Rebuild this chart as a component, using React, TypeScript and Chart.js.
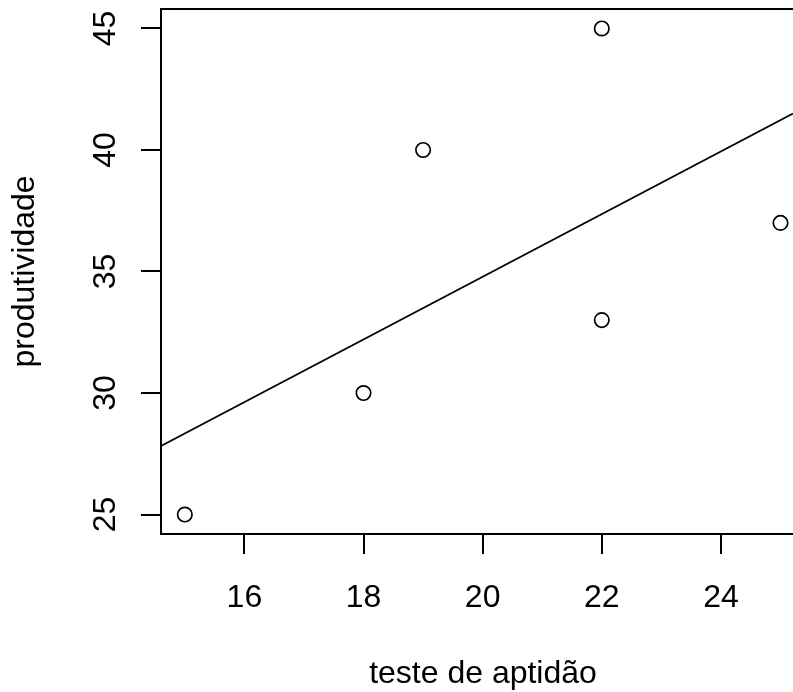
import React, { useEffect, useRef } from "react";
import { Chart, registerables } from "chart.js";

Chart.register(...registerables);

// Observations: aptitude test score vs. productivity
const aptidao = [15, 18, 19, 22, 22, 25];
const produtividade = [25, 30, 40, 45, 33, 37];

// Least-squares fit (lm(produtividade ~ aptidao))
const fitIntercept = 9.003;
const fitSlope = 1.2891;

const xTicks = [16, 18, 20, 22, 24];
const yTicks = [25, 30, 35, 40, 45];

const xTitle = "teste de aptidão";
const yTitle = "produtividade";

const X_MIN = 14.6;
const X_MAX = 25.21;
const Y_MIN = 24.2;
const Y_MAX = 45.8;

const FONT = '32px "Liberation Sans", Arial, Helvetica, sans-serif';

const framePlugin = {
  id: "rFrame",
  afterDraw(chart: any) {
    const { ctx, chartArea, scales } = chart;
    const { left, top, bottom, right } = chartArea;
    ctx.save();

    // plot box (its right side lies beyond the canvas)
    ctx.strokeStyle = "#000";
    ctx.lineWidth = 2;
    ctx.beginPath();
    ctx.moveTo(right + 20, top);
    ctx.lineTo(left, top);
    ctx.lineTo(left, bottom);
    ctx.lineTo(right + 20, bottom);
    ctx.stroke();

    ctx.fillStyle = "#000";
    ctx.font = FONT;
    ctx.textBaseline = "alphabetic";
    ctx.textAlign = "center";

    // x tick labels
    const xs = scales.x;
    for (const t of xs.ticks) {
      ctx.fillText(String(t.value), xs.getPixelForValue(t.value), bottom + 72.5);
    }

    // y tick labels, parallel to the axis
    const ys = scales.y;
    for (const t of ys.ticks) {
      const py = ys.getPixelForValue(t.value);
      ctx.save();
      ctx.translate(left - 46.5, py);
      ctx.rotate(-Math.PI / 2);
      ctx.fillText(String(t.value), 0, 0);
      ctx.restore();
    }

    // axis titles
    ctx.fillText(xTitle, 483, bottom + 149);
    ctx.save();
    ctx.translate(33.5, (top + bottom) / 2);
    ctx.rotate(-Math.PI / 2);
    ctx.fillText(yTitle, 0, 0);
    ctx.restore();

    ctx.restore();
  },
};

export default function App() {
  const canvasRef = useRef<HTMLCanvasElement | null>(null);

  useEffect(() => {
    const canvas = canvasRef.current;
    if (!canvas) return;

    const points = aptidao.map((x, i) => ({ x, y: produtividade[i] }));
    const fitLine = [X_MIN, X_MAX].map((x) => ({ x, y: fitIntercept + fitSlope * x }));

    const chart = new Chart(canvas, {
      type: "scatter",
      data: {
        datasets: [
          {
            label: "ajuste",
            data: fitLine,
            showLine: true,
            borderColor: "#000",
            borderWidth: 1.7,
            pointRadius: 0,
            fill: false,
          },
          {
            label: "observações",
            data: points,
            pointStyle: "circle",
            pointRadius: 7.2,
            pointBorderWidth: 1.7,
            borderColor: "#000",
            backgroundColor: "rgba(0,0,0,0)",
            pointBackgroundColor: "rgba(0,0,0,0)",
            pointBorderColor: "#000",
          },
        ],
      },
      options: {
        animation: false,
        responsive: false,
        devicePixelRatio: 1,
        layout: { autoPadding: false, padding: { top: 9, left: 0, right: 0, bottom: 0 } },
        plugins: { legend: { display: false }, tooltip: { enabled: false } },
        scales: {
          x: {
            type: "linear",
            min: X_MIN,
            max: X_MAX,
            afterBuildTicks: (s: any) => {
              s.ticks = xTicks.map((v) => ({ value: v }));
            },
            afterFit: (s: any) => {
              s.height = 158;
              s.paddingLeft = 0;
              s.paddingRight = 0;
            },
            grid: {
              drawOnChartArea: false,
              drawTicks: true,
              tickLength: 20,
              color: "#000",
              lineWidth: 2,
            },
            border: { display: false },
            ticks: { display: false },
          },
          y: {
            type: "linear",
            min: Y_MIN,
            max: Y_MAX,
            afterBuildTicks: (s: any) => {
              s.ticks = yTicks.map((v) => ({ value: v }));
            },
            afterFit: (s: any) => {
              s.width = 161;
              s.paddingTop = 0;
              s.paddingBottom = 0;
            },
            grid: {
              drawOnChartArea: false,
              drawTicks: true,
              tickLength: 20,
              color: "#000",
              lineWidth: 2,
            },
            border: { display: false },
            ticks: { display: false },
          },
        },
      },
      plugins: [framePlugin],
    });

    return () => chart.destroy();
  }, []);

  return (
    <div style={{ position: "absolute", left: 0, top: 0, width: 793, height: 692, background: "#fff" }}>
      <canvas ref={canvasRef} width={793} height={692} style={{ display: "block" }} />
    </div>
  );
}
